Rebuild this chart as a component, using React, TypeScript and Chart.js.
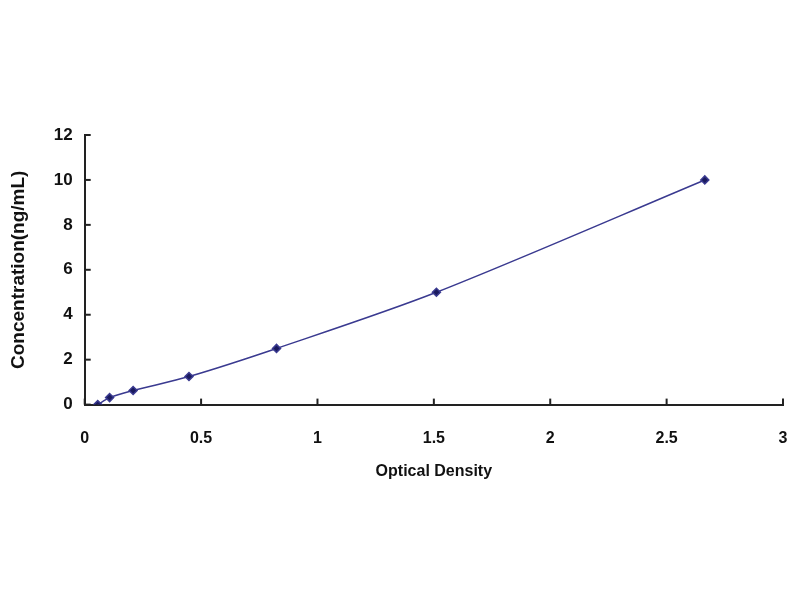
import React, { useEffect, useRef } from "react";
import { Chart, registerables } from "chart.js";

Chart.register(...registerables);

const odValues = [0.056, 0.107, 0.208, 0.448, 0.824, 1.511, 2.664];
const concValues = [0, 0.312, 0.625, 1.25, 2.5, 5, 10];
const xTickValues = [0, 0.5, 1, 1.5, 2, 2.5, 3];
const yTickValues = [0, 2, 4, 6, 8, 10, 12];
const xTitle = "Optical Density";
const yTitle = "Concentration(ng/mL)";

const inwardTicks = {
  id: "inwardTicks",
  afterDraw(chart: any) {
    const { ctx, chartArea, scales } = chart;
    ctx.save();
    ctx.strokeStyle = "#222";
    ctx.lineWidth = 2;
    xTickValues.forEach((v) => {
      const px = scales.x.getPixelForValue(v);
      ctx.beginPath();
      ctx.moveTo(px, chartArea.bottom);
      ctx.lineTo(px, chartArea.bottom - 6);
      ctx.stroke();
    });
    yTickValues.forEach((v) => {
      const py = scales.y.getPixelForValue(v);
      ctx.beginPath();
      ctx.moveTo(chartArea.left, py);
      ctx.lineTo(chartArea.left + 6, py);
      ctx.stroke();
    });
    ctx.restore();
  },
};

export default function App() {
  const ref = useRef<HTMLCanvasElement>(null);
  useEffect(() => {
    const font = { family: "'Liberation Sans', Arial, sans-serif", size: 16, weight: "bold" as const };
    const chart = new Chart(ref.current!, {
      type: "scatter",
      data: {
        datasets: [
          {
            data: odValues.map((x, i) => ({ x, y: concValues[i] })),
            showLine: true,
            borderColor: "#3a3a90",
            borderWidth: 1.5,
            backgroundColor: "#1a1a5e",
            pointStyle: "rectRot",
            pointRadius: 4,
            tension: 0.3,
          },
        ],
      },
      options: {
        animation: false,
        responsive: false,
        plugins: { legend: { display: false }, tooltip: { enabled: false } },
        layout: { padding: { top: 135, right: 17, bottom: 119, left: 3 } },
        scales: {
          x: {
            type: "linear",
            min: 0,
            max: 3,
            afterBuildTicks: (s: any) => {
              s.ticks = xTickValues.map((value) => ({ value }));
            },
            afterFit: (s: any) => {
              s.paddingRight = 0;
            },
            grid: { display: false, drawTicks: false },
            border: { color: "#222", width: 2 },
            ticks: { color: "#111", font, padding: 24, callback: (v: any) => String(v) },
            title: { display: true, text: xTitle, color: "#111", font, padding: { top: -10, bottom: 0 } },
          },
          y: {
            type: "linear",
            min: 0,
            max: 12,
            afterBuildTicks: (s: any) => {
              s.ticks = yTickValues.map((value) => ({ value }));
            },
            grid: { display: false, drawTicks: false },
            border: { color: "#222", width: 2 },
            ticks: { color: "#111", font: { ...font, size: 17 }, padding: 12, callback: (v: any) => String(v) },
            title: { display: true, text: yTitle, color: "#111", font: { ...font, size: 19 }, padding: { bottom: 12 } },
          },
        },
      },
      plugins: [inwardTicks],
    });
    return () => chart.destroy();
  }, []);
  return (
    <div style={{ position: "fixed", left: 0, top: 0, width: 800, height: 600, background: "#fff" }}>
      <canvas ref={ref} width={800} height={600} style={{ width: 800, height: 600 }} />
    </div>
  );
}
